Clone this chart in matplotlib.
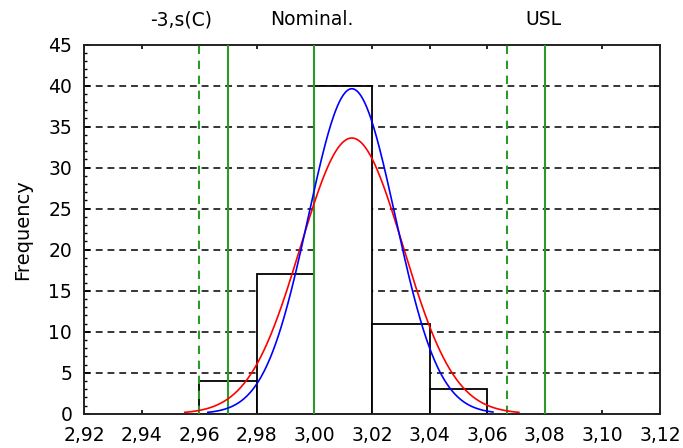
import matplotlib
matplotlib.use('Agg')
import matplotlib.pyplot as plt
import matplotlib.ticker as ticker
import numpy as np

# ── Data ────────────────────────────────────────────────────────────────────────
BIN_EDGES  = [2.96, 2.98, 3.00, 3.02, 3.04, 3.06]
BIN_COUNTS = [4, 17, 40, 11, 3]

# fitted normal curves (parameters)
FIT_MEAN    = 3.013
SIGMA_RED   = 0.0178   # overall sigma
SIGMA_BLUE  = 0.0151   # within sigma
RANGE_RED   = (2.955, 3.071)
RANGE_BLUE  = (2.963, 3.062)

# specification / limit lines
SOLID_LIMITS  = [2.970, 3.000, 3.080]
DASHED_LIMITS = [2.960, 3.067]

TOP_LABELS     = ['-3,s(C)', 'Nominal.', 'USL']
TOP_LABEL_XPOS = [2.9537, 2.9990, 3.0797]

GRID_LEVELS = [5, 10, 15, 20, 25, 30, 35, 40]

# ── Style ───────────────────────────────────────────────────────────────────────
plt.rcParams.update({
    'font.family': 'DejaVu Sans',
    'font.size':   13.5,
})
GREEN = '#2b9a2b'

fig = plt.figure(figsize=(6.83, 4.48), dpi=100)
ax = fig.add_axes([84 / 683, 34.3 / 448, 576 / 683, 369 / 448])

# horizontal dashed grid, drawn under the bars
for lvl in GRID_LEVELS:
    ax.axhline(lvl, color='black', lw=1.1, dashes=(4.5, 3.2), zorder=1)

# histogram bars: white filled, black outline
edges = np.array(BIN_EDGES)
ax.bar(edges[:-1], BIN_COUNTS, width=np.diff(edges), align='edge',
       facecolor='white', edgecolor='black', linewidth=1.3, zorder=2)

# limit lines
for xv in SOLID_LIMITS:
    ax.axvline(xv, color=GREEN, lw=1.5, zorder=3)
for xv in DASHED_LIMITS:
    ax.axvline(xv, color=GREEN, lw=1.5, dashes=(4.0, 3.2), zorder=3)

# normal curves scaled to frequency
n_total = sum(BIN_COUNTS)
bin_w = BIN_EDGES[1] - BIN_EDGES[0]
for sigma, (lo, hi), col in [(SIGMA_RED, RANGE_RED, 'red'),
                             (SIGMA_BLUE, RANGE_BLUE, 'blue')]:
    xs = np.linspace(lo, hi, 300)
    ys = n_total * bin_w / (sigma * np.sqrt(2 * np.pi)) * np.exp(-0.5 * ((xs - FIT_MEAN) / sigma) ** 2)
    ax.plot(xs, ys, color=col, lw=1.2, zorder=4)

# top labels
for lab, xp in zip(TOP_LABELS, TOP_LABEL_XPOS):
    ax.text(xp, 1.067, lab, transform=ax.get_xaxis_transform(),
            ha='center', va='center', fontsize=13.5)

# ── Axes ────────────────────────────────────────────────────────────────────────
ax.set_xlim(2.92, 3.12)
ax.set_ylim(0, 45)
ax.xaxis.set_major_locator(ticker.MultipleLocator(0.02))
ax.xaxis.set_major_formatter(ticker.FuncFormatter(lambda v, p: f'{v:.2f}'.replace('.', ',')))
ax.yaxis.set_major_locator(ticker.MultipleLocator(5))
ax.yaxis.set_minor_locator(ticker.MultipleLocator(1))

ax.tick_params(axis='x', which='major', direction='in', length=3, width=1.2,
               top=True, pad=9)
ax.tick_params(axis='y', which='major', direction='in', length=4, width=1.2,
               right=True, pad=8.5)
ax.tick_params(axis='y', which='minor', direction='in', length=2.5, width=1.0)

for sp in ax.spines.values():
    sp.set_linewidth(1.4)
    sp.set_color('#222222')

ax.set_ylabel('Frequency', fontsize=14, labelpad=12)

fig.savefig('out.png', dpi=100)
